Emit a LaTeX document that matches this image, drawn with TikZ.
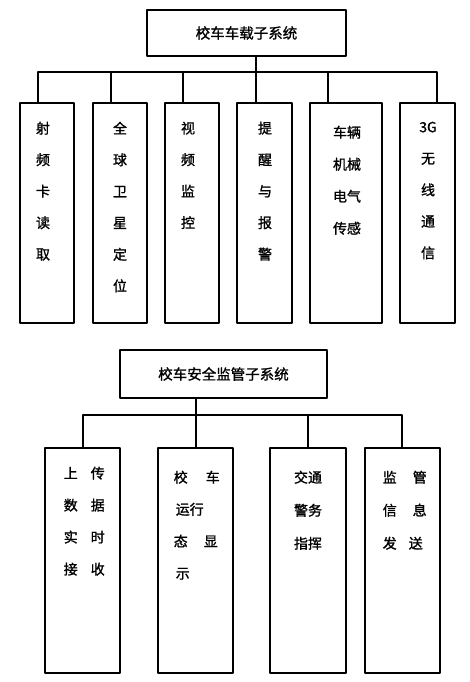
\documentclass[tikz,border=0pt]{standalone}
\usepackage{fontspec}
\setmainfont{Noto Sans CJK SC}[FakeBold=1.2]
\begin{document}
\begin{tikzpicture}[x=1pt, y=-1pt, line join=round, line cap=round, line width=1.5pt,
	khung/.style={draw, inner sep=0pt, minimum height=220pt, minimum width=54pt},
	chu/.style={inner sep=0pt, anchor=north, align=center, font=\fontsize{14}{31.5}\selectfont},
	chutrai/.style={inner sep=0pt, anchor=north west, align=left, font=\fontsize{14}{32}\selectfont}]
	%Khung ảnh.
	\useasboundingbox (0,0) rectangle (469,682);
	%Hệ thống trên xe.
	\node[khung, minimum width=199pt, minimum height=46pt, font=\fontsize{14.5}{17}\selectfont] (xe) at (246.5,33) {校车车载子系统};
	\node[khung] (b1) at (47,213) {};
	\node[khung] (b2) at (120,213) {};
	\node[khung] (b3) at (192,213) {};
	\node[khung, minimum width=55pt] (b4) at (264.5,213) {};
	\node[khung, minimum width=72pt] (b5) at (346,213) {};
	\node[khung, minimum width=55pt] (b6) at (427.5,213) {};
	%Điểm nối.
	\coordinate (s1) at (38,103);
	\coordinate (s2) at (111,103);
	\coordinate (s3) at (183,103);
	\coordinate (s4) at (256,103);
	\coordinate (s5) at (328,103);
	\coordinate (s6) at (437,103);
	\coordinate (thanh) at (0,72);
	%Đường nối.
	\draw (xe.south -| s4) -- (s4);
	\draw (s1) |- (thanh -| s6) -- (s6);
	\foreach \i in {2,3,5} \draw (s\i) -- (s\i |- thanh);
	%Chữ trong khung.
	\node[chu] (t1) at (43,121) {射\\频\\卡\\读\\取};
	\node[chu] (t2) at (120,121) {全\\球\\卫\\星\\定\\位};
	\node[chu] (t3) at (188,121) {视\\频\\监\\控};
	\node[chu] (t4) at (265,121) {提\\醒\\与\\报\\警};
	\node[chu, font=\fontsize{14}{32}\selectfont] (t5) at (347,125) {车辆\\机械\\电气\\传感};
	\node[chu] (t6) at (428,121) {3G\\无\\线\\通\\信};
	%Hệ thống giám sát.
	\node[khung, minimum width=207pt, minimum height=48pt, font=\fontsize{14.5}{17}\selectfont] (gs) at (223.5,374) {校车安全监管子系统};
	\node[khung, minimum width=75pt, minimum height=225pt] (c1) at (82.5,560.5) {};
	\node[khung, minimum width=75pt, minimum height=225pt] (c2) at (195.5,560.5) {};
	\node[khung, minimum width=76pt, minimum height=225pt] (c3) at (308,560.5) {};
	\node[khung, minimum width=75pt, minimum height=225pt] (c4) at (402.5,560.5) {};
	\coordinate (r1) at (83,448);
	\coordinate (r2) at (196,448);
	\coordinate (r3) at (308,448);
	\coordinate (r4) at (402,448);
	\coordinate (ngang) at (0,415);
	\draw (gs.south -| r2) -- (r2);
	\draw (r1) |- (ngang -| r4) -- (r4);
	\draw (r3) -- (r3 |- ngang);
	\node[chutrai] (u1) at (63,466) {上\hspace{13pt}传\\数\hspace{13pt}据\\实\hspace{13pt}时\\接\hspace{13pt}收};
	\node[chutrai] (u2) at (173,470) {校\hspace{18pt}车\\\hspace{2pt}运行\\态\hspace{16pt}显\\\hspace{2pt}示};
	\node[chu, font=\fontsize{14}{33}\selectfont] (u3) at (308,470) {交通\\警务\\指挥};
	\node[chutrai, font=\fontsize{14}{33}\selectfont] (u4) at (382,470) {监\hspace{16pt}管\\信\hspace{16pt}息\\发\hspace{12pt}送};
\end{tikzpicture}
\end{document}
